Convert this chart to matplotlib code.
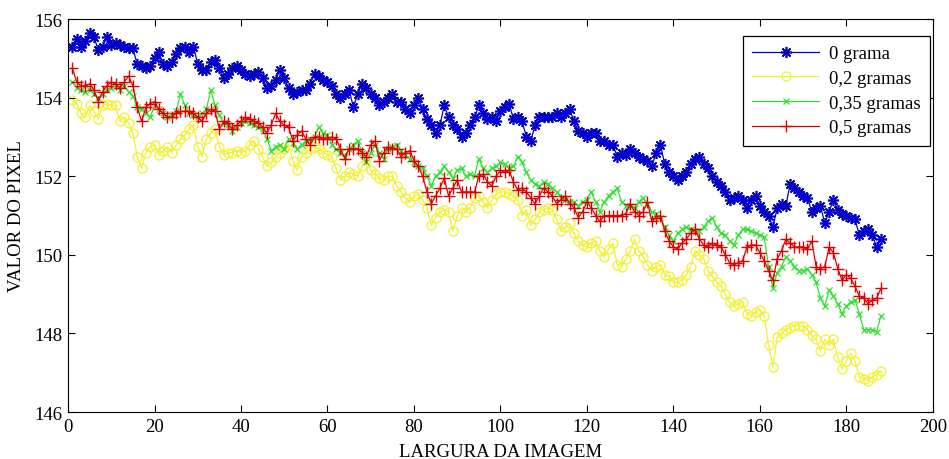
import numpy as np
import matplotlib
matplotlib.use("Agg")
import matplotlib.pyplot as plt

plt.rcParams["font.family"] = ["Liberation Serif", "DejaVu Serif"]

# largura da imagem (coluna do pixel)
largura = np.arange(1, 189)

# 0 grama
v_0 = [155.3, 155.5, 155.3, 155.45, 155.65, 155.55, 155.2, 155.3, 155.55, 155.35,
       155.4, 155.35, 155.3, 155.25, 155.25, 154.85, 154.8, 154.75, 154.8, 155.0,
       155.15, 154.85, 154.8, 154.9, 155.1, 155.25, 155.3, 155.15, 155.3, 154.85,
       154.7, 154.7, 154.9, 154.95, 154.75, 154.5, 154.6, 154.75, 154.8, 154.7,
       154.6, 154.55, 154.6, 154.65, 154.5, 154.25, 154.3, 154.45, 154.7, 154.5,
       154.25, 154.1, 154.15, 154.2, 154.2, 154.35, 154.6, 154.55, 154.45, 154.4,
       154.3, 154.1, 154.0, 154.1, 154.2, 153.75, 154.1, 154.35, 154.25, 154.1,
       154.0, 153.8, 153.9, 154.0, 154.1, 153.9, 153.9, 153.7, 153.6, 153.8,
       154.0, 153.7, 153.45, 153.3, 153.1, 153.3, 153.8, 153.5, 153.3, 153.2,
       153.0, 153.1, 153.3, 153.5, 153.8, 153.6, 153.45, 153.5, 153.4, 153.65,
       153.75, 153.85, 153.45, 153.5, 153.4, 153.0, 152.9, 153.3, 153.5, 153.5,
       153.5, 153.5, 153.6, 153.5, 153.6, 153.7, 153.4, 153.15, 153.1, 153.0,
       153.1, 153.1, 152.9, 152.9, 152.8, 152.8, 152.5, 152.6, 152.55, 152.7,
       152.6, 152.5, 152.45, 152.4, 152.25, 152.6, 152.8, 152.3, 152.1, 152.0,
       151.9, 152.0, 152.1, 152.3, 152.45, 152.5, 152.3, 152.2, 152.0, 151.85,
       151.75, 151.6, 151.4, 151.45, 151.5, 151.4, 151.2, 151.4, 151.5, 151.25,
       151.1, 151.0, 150.7, 151.2, 151.3, 151.25, 151.8, 151.7, 151.6, 151.5,
       151.45, 151.1, 151.2, 151.25, 150.8, 151.1, 151.4, 151.15, 151.05, 151.0,
       150.95, 150.9, 150.5, 150.6, 150.65, 150.5, 150.2, 150.4]

# 0,2 gramas
v_02 = [153.95, 153.85, 153.6, 153.5, 153.8, 153.65, 153.45, 153.8, 153.85, 153.8,
        153.8, 153.4, 153.5, 153.35, 153.1, 152.5, 152.2, 152.6, 152.75, 152.8,
        152.55, 152.65, 152.75, 152.6, 152.8, 152.95, 153.05, 153.2, 153.3, 152.75,
        152.5, 152.95, 153.1, 153.2, 152.75, 152.55, 152.6, 152.6, 152.65, 152.6,
        152.65, 152.8, 152.9, 152.7, 152.5, 152.25, 152.35, 152.5, 152.6, 152.7,
        152.8, 152.4, 152.15, 152.5, 152.6, 152.7, 152.75, 152.7, 152.6, 152.55,
        152.5, 152.2, 151.9, 152.0, 152.1, 152.05, 152.0, 152.25, 152.45, 152.15,
        152.05, 151.95, 151.9, 152.0, 152.0, 151.75, 151.6, 151.45, 151.35, 151.5,
        151.55, 151.4, 151.2, 150.75, 150.95, 151.1, 151.15, 151.1, 150.6, 151.0,
        151.2, 151.1, 151.2, 151.45, 151.5, 151.35, 151.2, 151.4, 151.55, 151.6,
        151.6, 151.55, 151.5, 151.4, 151.0, 151.15, 150.75, 150.9, 151.1, 151.15,
        151.2, 151.15, 150.9, 150.6, 150.7, 150.8, 150.55, 150.35, 150.25, 150.2,
        150.3, 150.35, 150.1, 149.95, 150.15, 150.3, 149.75, 149.7, 149.9, 150.1,
        150.4, 150.1, 149.95, 149.75, 149.6, 149.7, 149.75, 149.5, 149.45, 149.3,
        149.3, 149.35, 149.5, 149.7, 150.1, 150.0, 149.9, 149.6, 149.45, 149.3,
        149.2, 149.0, 148.8, 148.7, 148.75, 148.8, 148.5, 148.45, 148.55, 148.6,
        148.45, 147.7, 147.15, 147.9, 148.0, 148.1, 148.15, 148.2, 148.2, 148.2,
        148.1, 147.95, 147.85, 147.55, 147.85, 147.7, 147.85, 147.4, 147.1, 147.3,
        147.5, 147.3, 146.9, 146.85, 146.8, 146.9, 146.95, 147.05]

# 0,35 gramas
v_035 = [154.4, 154.25, 154.2, 154.15, 154.2, 154.1, 154.0, 154.1, 154.2, 154.25,
         154.3, 154.2, 154.3, 154.15, 154.05, 153.75, 153.7, 153.6, 153.5, 153.8,
         153.7, 153.6, 153.5, 153.55, 153.65, 154.1, 153.8, 153.6, 153.55, 153.5,
         153.6, 153.7, 154.2, 153.8, 153.55, 153.35, 153.3, 153.15, 153.25, 153.35,
         153.4, 153.35, 153.3, 153.25, 153.2, 152.95, 152.65, 152.75, 152.8, 152.7,
         152.95, 152.85, 152.7, 152.8, 152.9, 152.95, 153.0, 153.25, 153.1, 153.05,
         152.8, 152.7, 152.6, 152.5, 152.7, 152.8, 152.9, 152.6, 152.35, 152.6,
         152.8, 152.6, 152.45, 152.7, 152.75, 152.8, 152.65, 152.55, 152.45, 152.35,
         152.25, 152.2, 152.0, 151.75, 152.0, 152.1, 152.25, 152.1, 151.95, 152.15,
         152.2, 152.0, 152.05, 152.0, 152.45, 152.2, 152.1, 152.2, 152.25, 152.35,
         152.3, 152.2, 152.25, 152.5, 152.35, 152.1, 151.9, 151.8, 151.75, 151.85,
         151.8, 151.7, 151.6, 151.45, 151.4, 151.35, 151.35, 151.25, 151.35, 151.4,
         151.6, 151.35, 151.1, 151.35, 151.5, 151.6, 151.7, 151.35, 151.25, 151.25,
         151.2, 151.35, 151.45, 151.3, 151.1, 151.05, 150.95, 150.7, 150.5, 150.35,
         150.55, 150.65, 150.7, 150.65, 150.6, 150.6, 150.7, 150.85, 150.95, 150.7,
         150.55, 150.5, 150.35, 150.25, 150.5, 150.65, 150.65, 150.6, 150.55, 150.5,
         150.45, 149.7, 149.15, 149.55, 149.7, 149.95, 149.85, 149.7, 149.6, 149.6,
         149.65, 149.5, 149.3, 148.9, 148.7, 149.1, 148.95, 148.75, 148.5, 148.7,
         148.8, 148.85, 148.5, 148.1, 148.1, 148.1, 148.05, 148.45]

# 0,5 gramas
v_05 = [154.75, 154.4, 154.3, 154.3, 154.35, 154.2, 153.9, 154.15, 154.3, 154.4,
        154.35, 154.25, 154.4, 154.55, 154.3, 153.75, 153.4, 153.75, 153.85, 153.9,
        153.7, 153.6, 153.5, 153.5, 153.6, 153.65, 153.65, 153.65, 153.6, 153.5,
        153.4, 153.6, 153.7, 153.65, 153.2, 153.4, 153.35, 153.2, 153.3, 153.4,
        153.5, 153.45, 153.4, 153.35, 153.25, 153.1, 153.3, 153.6, 153.4, 153.3,
        153.25, 152.9, 153.05, 153.15, 152.95, 152.8, 153.0, 153.0, 152.95, 152.95,
        153.0, 152.95, 152.7, 152.45, 152.7, 152.7, 152.7, 152.6, 152.5, 152.8,
        152.9, 152.4, 152.6, 152.75, 152.7, 152.7, 152.5, 152.6, 152.65, 152.4,
        152.25, 152.0, 151.6, 151.3, 151.5, 151.7, 151.95, 151.5, 151.7, 151.9,
        151.6, 151.6, 151.6, 151.6, 152.0, 152.05, 151.85, 151.75, 152.0, 152.15,
        152.1, 152.15, 151.85, 151.65, 151.7, 151.6, 151.45, 151.3, 151.5, 151.7,
        151.6, 151.5, 151.3, 151.4, 151.5, 151.3, 151.2, 150.95, 151.1, 151.35,
        151.2, 151.0, 150.85, 151.0, 151.0, 151.0, 151.0, 151.0, 151.05, 151.3,
        151.1, 151.0, 151.1, 151.35, 150.85, 150.95, 151.0, 150.6, 150.35, 150.2,
        150.15, 150.3, 150.4, 150.55, 150.65, 150.4, 150.25, 150.2, 150.3, 150.25,
        150.2, 150.0, 149.8, 149.75, 149.8, 149.85, 150.2, 150.25, 150.25, 150.05,
        149.85, 149.6, 149.35, 149.9, 150.1, 150.4, 150.3, 150.2, 150.2, 150.2,
        150.15, 150.35, 149.7, 149.65, 149.7, 150.2, 150.05, 149.65, 149.35, 149.5,
        149.4, 149.2, 148.95, 148.9, 148.75, 148.85, 148.9, 149.15]

series = [
    (v_0, "0 grama", "#0000c8", (8, 2, 0), 8, 1.2),
    (v_02, "0,2 gramas", "#f2f030", "o", 6.5, 0.9),
    (v_035, "0,35 gramas", "#30e030", "x", 5, 0.9),
    (v_05, "0,5 gramas", "#e00000", "+", 9, 1.0),
]

fig = plt.figure(figsize=(9.49, 4.6), dpi=100)
ax = fig.add_axes([0.0717, 0.102, 0.9113, 0.8545])

for vals, label, color, marker, ms, mew in series:
    ax.plot(largura, vals, color=color, linewidth=0.9, marker=marker,
            markersize=ms, markerfacecolor="none", markeredgecolor=color,
            markeredgewidth=mew, label=label)

ax.set_xlim(0, 200)
ax.set_ylim(146, 156)
ax.set_xticks(np.arange(0, 201, 20))
ax.set_yticks(np.arange(146, 157, 2))
ax.tick_params(direction="in", top=True, right=True, labelsize=13.5, length=5, pad=4)
ax.set_xlabel("LARGURA DA IMAGEM", fontsize=13.5, labelpad=6)
ax.set_ylabel("VALOR DO PIXEL", fontsize=13.5, labelpad=7)

leg = ax.legend(loc="upper right", bbox_to_anchor=(0.9965, 0.957), borderaxespad=0,
                fontsize=13.5, handlelength=3.6, labelspacing=0.4, fancybox=False,
                edgecolor="black", framealpha=1, borderpad=0.5, handletextpad=0.5)
leg.get_frame().set_linewidth(0.9)

fig.savefig("out.png", dpi=100)
